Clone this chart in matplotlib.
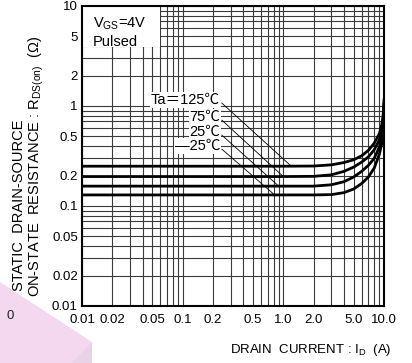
import matplotlib
matplotlib.use("Agg")
import matplotlib.pyplot as plt
from matplotlib.patches import Polygon, Rectangle

plt.rcParams["font.family"] = ["Liberation Sans", "Noto Sans CJK JP", "DejaVu Sans"]
plt.rcParams["mathtext.fontset"] = "custom"
plt.rcParams["mathtext.rm"] = "Liberation Sans"

# drain current (A) and on-resistance (ohm)
drain_current = [0.01, 1.0, 2.0, 3.0, 4.0, 5.0, 6.0, 7.0, 8.0, 9.0, 9.5, 9.8, 10.0]
r_125 = [0.25, 0.25, 0.251, 0.258, 0.272, 0.29, 0.318, 0.36, 0.425, 0.53, 0.65, 0.8, 1.15]
r_75 = [0.197, 0.197, 0.198, 0.205, 0.222, 0.245, 0.275, 0.31, 0.365, 0.46, 0.56, 0.7, 1.05]
r_25 = [0.158, 0.158, 0.158, 0.163, 0.175, 0.195, 0.222, 0.255, 0.30, 0.39, 0.5, 0.65, 0.95]
r_m25 = [0.129, 0.129, 0.129, 0.13, 0.136, 0.148, 0.168, 0.195, 0.24, 0.33, 0.42, 0.55, 0.85]

temp_labels = ["Ta\uff1d125\u2103", "75\u2103", "25\u2103", "\u201425\u2103"]
label_y = [1.15, 0.776, 0.55, 0.398]
leader_end_x = [1.2, 1.0, 0.9, 0.82]
curve_flat = [0.25, 0.197, 0.158, 0.129]

x_ticks = [0.01, 0.02, 0.05, 0.1, 0.2, 0.5, 1.0, 2.0, 5.0, 10.0]
x_tick_labels = ["0.01", "0.02", "0.05", "0.1", "0.2", "0.5", "1.0", "2.0", "5.0", "10.0"]
y_ticks = [0.01, 0.02, 0.05, 0.1, 0.2, 0.5, 1, 2, 5, 10]
y_tick_labels = ["0.01", "0.02", "0.05", "0.1", "0.2", "0.5", "1", "2", "5", "10"]

W, H = 412, 363
fig = plt.figure(figsize=(W / 100, H / 100), dpi=100)


def fx(px):
    return px / W


def fy(py):
    return 1 - py / H


# pink decoration in the lower left corner
fig.patches.append(Polygon([(fx(0), fy(282)), (fx(92), fy(342)), (fx(92), fy(363)), (fx(0), fy(363))],
                           closed=True, transform=fig.transFigure, facecolor="#f3d8f0",
                           edgecolor="none", zorder=0))
fig.patches.append(Polygon([(fx(92), fy(342)), (fx(92), fy(363)), (fx(72), fy(363))],
                           closed=True, transform=fig.transFigure, facecolor="#e8d4e6",
                           edgecolor="none", zorder=0))
fig.text(fx(10), fy(316), "0", fontsize=9.5, ha="center", va="center", color="#222222")

ax = fig.add_axes([fx(82), fy(306), 302 / W, 300 / H])
ax.set_xscale("log")
ax.set_yscale("log")
ax.set_xlim(0.01, 10)
ax.set_ylim(0.01, 10)

for r in [r_125, r_75, r_25, r_m25]:
    ax.plot(drain_current, r, color="black", linewidth=2.0, zorder=3)

for lab, ly, ex, ey in zip(temp_labels, label_y, leader_end_x, curve_flat):
    ax.text(0.236, ly, lab, fontsize=10.5, ha="right", va="center", zorder=4,
            bbox=dict(facecolor="white", edgecolor="none", pad=0.5))
    ax.plot([0.245, ex], [ly * 0.93, ey], color="black", linewidth=0.6, zorder=3)

ax.add_patch(Rectangle((0, 0.863), 0.258, 0.137, transform=ax.transAxes,
                       facecolor="white", edgecolor="none", zorder=2.5))
ax.text(11 / 302, 1 - 18 / 300, r"V$_{\mathrm{GS}}$=4V", transform=ax.transAxes,
        fontsize=10.5, ha="left", va="center", zorder=4)
ax.text(11 / 302, 1 - 36 / 300, "Pulsed", transform=ax.transAxes,
        fontsize=10.5, ha="left", va="center", zorder=4)

ax.set_xticks(x_ticks)
ax.set_xticklabels(x_tick_labels)
ax.set_yticks(y_ticks)
ax.set_yticklabels(y_tick_labels)
ax.set_xticks([v * k for v in [0.01, 0.1, 1] for k in range(2, 10)], minor=True)
ax.set_yticks([v * k for v in [0.01, 0.1, 1] for k in range(2, 10)], minor=True)
ax.grid(True, which="both", color="#3a3a3a", linewidth=0.8)
ax.set_axisbelow(True)
ax.tick_params(length=0, labelsize=9.5)
ax.tick_params(axis="x", pad=6)
ax.tick_params(axis="y", pad=3)
ax.tick_params(which="minor", length=0, labelleft=False, labelbottom=False)

for s in ax.spines.values():
    s.set_linewidth(1.5)
    s.set_zorder(5)

fig.text(fx(311), fy(350), r"DRAIN  CURRENT : I$_{\mathrm{D}}$  (A)", fontsize=9.5,
         ha="center", va="center")
fig.text(fx(19), fy(291), "STATIC  DRAIN-SOURCE", fontsize=10.5, rotation=90,
         ha="center", va="bottom")
fig.text(fx(36), fy(297), r"ON-STATE  RESISTANCE : R$_{\mathrm{DS(on)}}$  (Ω)", fontsize=10.5,
         rotation=90, ha="center", va="bottom")

fig.savefig("out.png", dpi=100)
